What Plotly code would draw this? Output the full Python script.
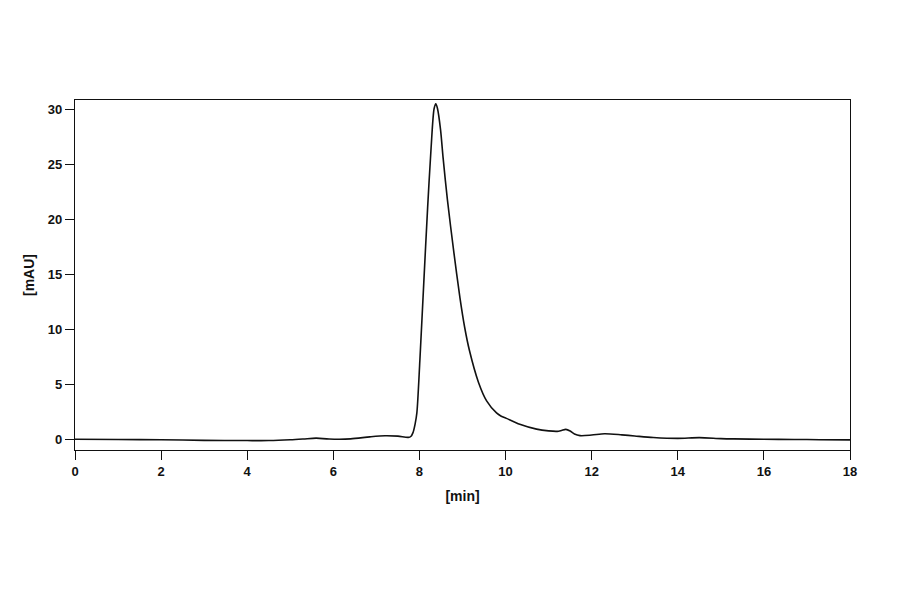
import plotly.graph_objects as go

# retention time [min] and absorbance [mAU]
time_min = [0, 1, 2, 3, 4, 4.5, 5, 5.3, 5.6, 5.9, 6.4, 6.85, 7.2, 7.5, 7.74,
            7.8, 7.85, 7.9, 7.94, 8.01, 8.10, 8.19, 8.27, 8.34, 8.38, 8.42,
            8.49, 8.55, 8.65, 8.80, 8.94, 9.05, 9.16, 9.37, 9.56, 9.79,
            9.9, 10.02, 10.33, 10.72, 11.0, 11.2, 11.3, 11.4, 11.5, 11.6,
            11.73, 12.0, 12.3, 12.7, 13.0, 13.43, 14.0, 14.5, 15.0, 15.3,
            16.0, 16.7, 17.3, 18.0]
absorb_mau = [0.0, -0.02, -0.05, -0.1, -0.12, -0.12, -0.05, 0.02, 0.1, 0.02,
              0.03, 0.22, 0.32, 0.28, 0.17, 0.25, 0.6, 1.4, 2.4, 7.2, 14.2,
              21.1, 26.5, 30.1, 30.55, 30.1, 28.2, 25.6, 21.8, 17.0, 12.9,
              10.2, 8.1, 5.2, 3.5, 2.4, 2.1, 1.9, 1.36, 0.92, 0.76, 0.72,
              0.8, 0.9, 0.75, 0.48, 0.33, 0.38, 0.5, 0.4, 0.3, 0.16, 0.08,
              0.15, 0.06, 0.03, 0.0, -0.02, -0.04, -0.06]

x_ticks = [0, 2, 4, 6, 8, 10, 12, 14, 16, 18]
y_ticks = [0, 5, 10, 15, 20, 25, 30]

font_name = "Liberation Sans"
ink = "#111111"

fig = go.Figure()
fig.add_trace(go.Scatter(
    x=time_min, y=absorb_mau, mode="lines",
    line=dict(color=ink, width=1.6, shape="spline", smoothing=0.8),
    hoverinfo="skip", showlegend=False,
))

axis_common = dict(
    showgrid=False, zeroline=False, showline=True, linecolor=ink,
    linewidth=1.3, mirror=True, ticks="outside", ticklen=9, tickwidth=1.3,
    tickcolor=ink,
    tickfont=dict(family=font_name, size=13, color=ink, weight="bold"),
)

fig.update_xaxes(
    range=[0, 18], tickvals=x_ticks,
    title=dict(text="<b>[min]</b>", standoff=13,
               font=dict(family=font_name, size=14, color=ink)),
    **axis_common,
)
fig.update_yaxes(
    range=[-0.98, 30.9], tickvals=y_ticks,
    title=dict(text="<b>[mAU]</b>", standoff=9,
               font=dict(family=font_name, size=14, color=ink)),
    **axis_common,
)

# page body has an 8px margin, so the figure is 8px smaller and top/left shrink
fig.update_layout(
    width=892, height=586,
    margin=dict(l=67, r=50, t=92, b=144),
    paper_bgcolor="white", plot_bgcolor="white",
)

fig.write_html("out.html")
